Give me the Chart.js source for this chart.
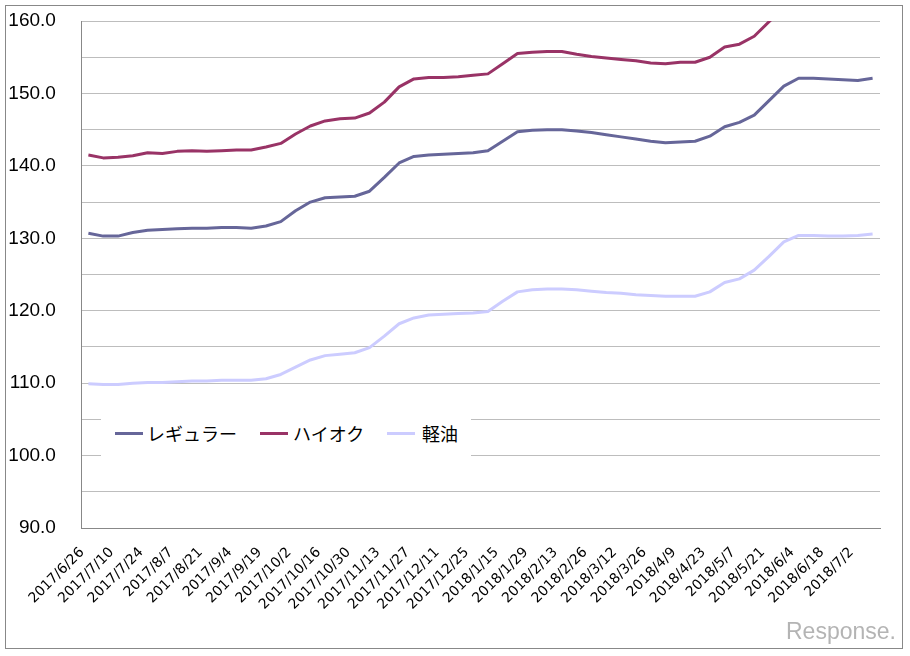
<!DOCTYPE html>
<html>
<head>
<meta charset="utf-8">
<script src="https://cdn.jsdelivr.net/npm/chart.js@4.4.0/dist/chart.umd.min.js"></script>
<style>
  html, body { margin: 0; padding: 0; background: #fff; }
  #wrap { position: relative; width: 910px; height: 656px; }
  #frame { position: absolute; left: 5px; top: 5px; width: 898px; height: 644px; border: 1px solid #888; box-sizing: border-box; }
  canvas { position: absolute; left: 0; top: 0; }
  #legend { position: absolute; left: 101px; top: 410px; width: 370px; height: 46px; background: #fff;
            font-family: "Noto Sans CJK JP", sans-serif; font-size: 18px; color: #000; }
  .swatch { position: absolute; top: 22px; width: 28px; height: 3px; }
  .lbl { position: absolute; top: 0; }
  #logo { position: absolute; left: 786px; top: 618px; font-family: "Liberation Sans", sans-serif;
          font-size: 23px; color: #b4b4b4; }
</style>
</head>
<body>
<div id="wrap">
  <canvas id="c" width="910" height="656"></canvas>
  <div id="frame"></div>
  <div id="legend"></div>
  <div id="logo">Response.</div>
</div>
<script>
const dates = [
  "2017/6/26","2017/7/3","2017/7/10","2017/7/18","2017/7/24","2017/7/31","2017/8/7","2017/8/14",
  "2017/8/21","2017/8/28","2017/9/4","2017/9/11","2017/9/19","2017/9/25","2017/10/2","2017/10/10",
  "2017/10/16","2017/10/23","2017/10/30","2017/11/6","2017/11/13","2017/11/20","2017/11/27","2017/12/4",
  "2017/12/11","2017/12/18","2017/12/25","2018/1/9","2018/1/15","2018/1/22","2018/1/29","2018/2/5",
  "2018/2/13","2018/2/19","2018/2/26","2018/3/5","2018/3/12","2018/3/19","2018/3/26","2018/4/2",
  "2018/4/9","2018/4/16","2018/4/23","2018/5/1","2018/5/7","2018/5/14","2018/5/21","2018/5/28",
  "2018/6/4","2018/6/11","2018/6/18","2018/6/25","2018/7/2","2018/7/9"
];
const regular = [130.7,130.3,130.3,130.8,131.1,131.2,131.3,131.4,131.4,131.5,131.5,131.4,131.7,132.3,133.8,135.0,
  135.6,135.7,135.8,136.5,138.4,140.4,141.3,141.5,141.6,141.7,141.8,142.1,143.4,144.7,144.9,145.0,
  145.0,144.8,144.6,144.3,144.0,143.7,143.4,143.2,143.3,143.4,144.1,145.4,146.0,147.0,149.0,151.0,
  152.1,152.1,152.0,151.9,151.8,152.1];
const highOctane = [141.5,141.1,141.2,141.4,141.8,141.7,142.0,142.1,142.0,142.1,142.2,142.2,142.6,143.1,144.4,145.5,
  146.2,146.5,146.6,147.3,148.8,150.9,152.0,152.2,152.2,152.3,152.5,152.7,154.1,155.5,155.7,155.8,
  155.8,155.4,155.1,154.9,154.7,154.5,154.2,154.1,154.3,154.3,155.0,156.4,156.8,157.9,159.9,161.9,
  163.0,163.0,162.9,162.8,162.7,163.0];
const diesel = [109.9,109.8,109.8,110.0,110.1,110.1,110.2,110.3,110.3,110.4,110.4,110.4,110.6,111.2,112.2,113.2,
  113.8,114.0,114.2,114.9,116.5,118.2,119.0,119.4,119.5,119.6,119.7,119.9,121.3,122.6,122.9,123.0,
  123.0,122.9,122.7,122.5,122.4,122.2,122.1,122.0,122.0,122.0,122.6,123.9,124.4,125.6,127.5,129.5,
  130.4,130.4,130.3,130.3,130.4,130.6];
const seriesNames = ["レギュラー", "ハイオク", "軽油"];
const seriesColors = ["#666699", "#993366", "#CCCCFF"];
const yMin = 90, yMax = 160, yStep = 5, yLabelStep = 10;

const datasets = [regular, highOctane, diesel].map((d, i) => ({
  label: seriesNames[i], data: d, borderColor: seriesColors[i], backgroundColor: seriesColors[i],
  borderWidth: 3, pointRadius: 0, tension: 0, fill: false, borderJoinStyle: 'round'
}));

new Chart(document.getElementById('c'), {
  type: 'line',
  data: { labels: dates, datasets },
  options: {
    responsive: false, animation: false,
    layout: { padding: { left: 5, top: 21, right: 30, bottom: 0 } },
    plugins: { legend: { display: false }, tooltip: { enabled: false } },
    scales: {
      x: {
        offset: true,
        grid: { display: false, drawTicks: false },
        border: { display: true, color: '#888', width: 1 },
        ticks: {
          autoSkip: false, maxRotation: 45, minRotation: 45, padding: 10,
          color: '#000', font: { family: 'DejaVu Sans', size: 14 },
          callback: (v, i) => (i % 2 === 0 ? dates[i] + '  ' : '')
        },
        afterFit: s => { s.height = 128; }
      },
      y: {
        min: yMin, max: yMax,
        grid: { color: '#bdbdbd', drawTicks: false, lineWidth: 1 },
        border: { display: true, color: '#888', width: 1 },
        ticks: {
          stepSize: yStep, padding: 4, color: '#000',
          font: { family: 'Liberation Sans', size: 19 },
          callback: v => (v % yLabelStep === 0 ? v.toFixed(1) + '    ' : '')
        },
        afterFit: s => { s.width = 76; }
      }
    }
  }
});

const lg = document.getElementById('legend');
const pos = [[14, 46], [159, 192], [286, 321]];
seriesNames.forEach((n, i) => {
  const sw = document.createElement('div');
  sw.className = 'swatch'; sw.style.left = pos[i][0] + 'px'; sw.style.background = seriesColors[i];
  const t = document.createElement('div');
  t.className = 'lbl'; t.style.left = pos[i][1] + 'px'; t.textContent = n;
  t.style.lineHeight = '46px';
  lg.appendChild(sw); lg.appendChild(t);
});
</script>
</body>
</html>
